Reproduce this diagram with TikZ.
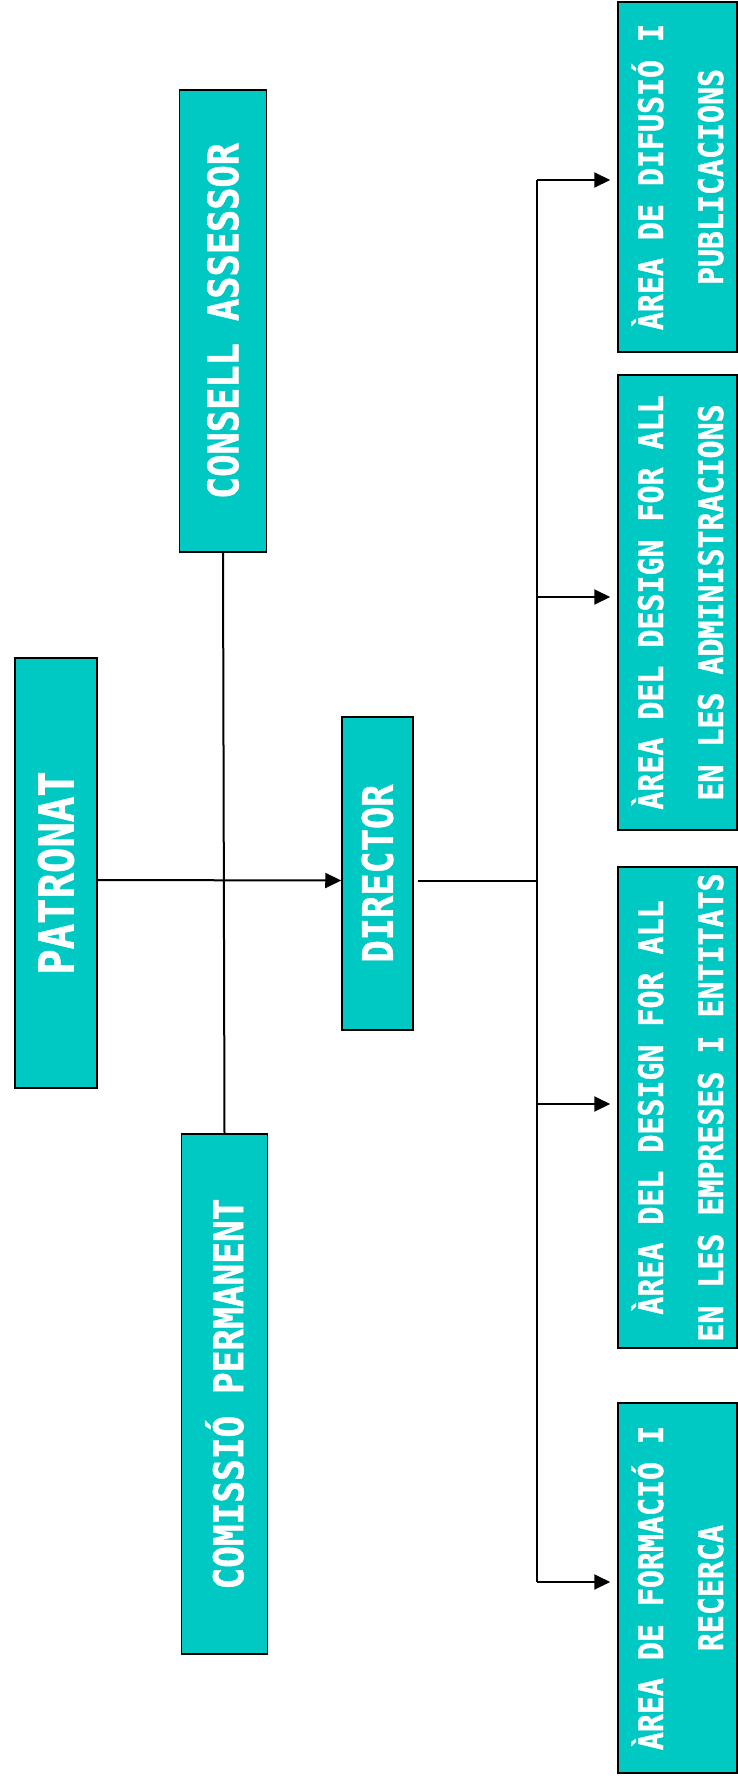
\documentclass[tikz,border=0pt]{standalone}
\usepackage{fontspec}
\usetikzlibrary{positioning,arrows.meta}
\newfontfamily\orgfont{DejaVu Sans Mono}[FakeStretch=0.88,BoldFeatures={FakeBold=1.2}]
\definecolor{orgteal}{RGB}{0,201,196}

\begin{document}
\begin{tikzpicture}[
		  x=1pt,y=-1pt,
		  orgbox/.style={draw=black,line width=1.5pt,fill=orgteal,rotate=90,text=white,inner sep=0pt,
		    font=\orgfont\bfseries,align=center},
		  arealbl/.style={orgbox,font=\orgfont\bfseries\fontsize{34}{60}\selectfont,minimum height=119pt},
		  orgline/.style={line width=2pt},
		  orgarrow/.style={orgline,-{Triangle[length=16pt,width=15pt]}}
		]
		\useasboundingbox (0,0) rectangle (738,1780);
		\node[orgbox,minimum width=430pt,minimum height=82pt,font=\orgfont\bfseries\fontsize{48}{52}\selectfont] (Patronat) at (56,873) {PATRONAT};
		\node[orgbox,minimum width=313pt,minimum height=71pt,font=\orgfont\bfseries\fontsize{42}{46}\selectfont] (Director) at (377.5,873.5) {DIRECTOR};
		\node[orgbox,minimum width=462pt,minimum height=87pt,font=\orgfont\bfseries\fontsize{42}{46}\selectfont] (Consell) at (223,321) {CONSELL ASSESSOR};
		\node[orgbox,minimum width=520pt,minimum height=86pt,font=\orgfont\bfseries\fontsize{41}{45}\selectfont] (Comissio) at (224.5,1394) {COMISSIÓ PERMANENT};
		\node[arealbl,minimum width=350pt] (Difusio) at (677.5,177) {ÀREA DE DIFUSIÓ I\\PUBLICACIONS};
		\node[arealbl,minimum width=455pt] (Administracions) at (677.5,602.5) {ÀREA DEL DESIGN FOR ALL\\EN LES ADMINISTRACIONS};
		\node[arealbl,minimum width=481pt] (Empreses) at (677.5,1107.5) {ÀREA DEL DESIGN FOR ALL\\EN LES EMPRESES I ENTITATS};
		\node[arealbl,minimum width=370pt] (Formacio) at (677.5,1588) {ÀREA DE FORMACIÓ I\\RECERCA};
		% patronat - director
		\draw[orgline] (Consell.west) -- (Comissio.east);
		\draw[orgarrow] ([yshift=-7pt]Patronat.south) -- ([yshift=-7pt]Director.north);
		% director - arees
		\coordinate (Bus) at (537,880.5);
		\foreach \area/\dy in {Difusio/-3,Administracions/5.5,Empreses/3.5,Formacio/6}
		  \coordinate (\area-in) at ([yshift=\dy pt]\area.north);
		\draw[orgline] ([xshift=4pt,yshift=-7pt]Director.south) -- (Bus);
		\draw[orgline] (Bus |- Difusio-in) -- (Bus |- Formacio-in);
		\foreach \area in {Difusio,Administracions,Empreses,Formacio}
		  \draw[orgarrow,shorten >=7pt] (Bus |- \area-in) -- (\area-in);
		\end{tikzpicture}
\end{document}
